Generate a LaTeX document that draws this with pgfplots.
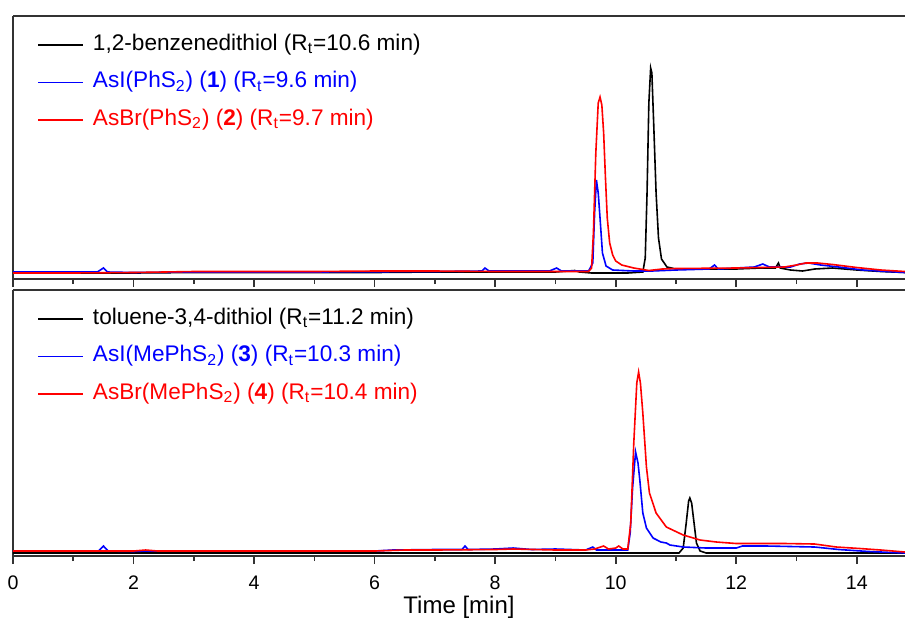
\documentclass[border=0pt]{standalone}
\usepackage{fontspec}
\setmainfont{Liberation Sans}
\usepackage{pgfplots}
\pgfplotsset{compat=1.18}

\pgfplotsset{
  legend image code/.code={\draw[#1] (0pt,0pt) -- (22.5pt,0pt);},
  chrom/.style={
    scale only axis,
    width=446pt,
    xmin=0, xmax=14.8,
    axis x line=box,
    axis y line=left,
    y axis line style={-},
    axis line style={line width=1pt, black!80},
    ytick=\empty,
    xtick={0,2,...,14},
    minor x tick num=1,
    xtick pos=left,
    tick align=outside,
    major tick length=4pt,
    minor tick length=2.5pt,
    tick style={line width=0.8pt, black!80},
    tick label style={font=\fontsize{9.8}{11}\selectfont},
    xticklabel shift=2.5pt,
    /pgf/number format/assume math mode=true,
    legend cell align=left,
    legend style={draw=none, fill=none, at={(0,1)}, anchor=north west,
      xshift=12pt, yshift=-8.5pt, inner sep=0pt,
      font=\fontsize{11.3}{13}\selectfont, row sep=7.25pt, column sep=4.5pt,
      nodes={inner sep=0pt, text height=8.5pt, text depth=3pt}},
    every axis plot/.append style={line width=0.8pt},
  }
}

\begin{document}
\begin{tikzpicture}
\useasboundingbox (0,0) rectangle (452.5pt,-308.5pt);

% upper panel: benzenedithiol and its AsX complexes
\begin{axis}[chrom, at={(6.5pt,-8pt)}, anchor=north west,
  height=131.5pt, ymin=-6, ymax=257, xticklabels={}]
\addplot[black] coordinates {
(0,0) (1,0) (2,0) (3,0.5) (4,0.5) (5,0.5) (6,0.5) (7,1) (8,1) (9,1) (9.32,2.5) (9.4,1)
(9.6,0) (10.2,0) (10.45,1) (10.49,15) (10.52,80) (10.55,170) (10.58,205) (10.60,200)
(10.63,150) (10.67,80) (10.71,35) (10.76,14) (10.85,6) (11,4) (11.5,4) (12,4) (12.4,5)
(12.65,5) (12.7,10) (12.73,5) (12.9,3) (13.1,2) (13.3,4) (13.6,5) (14,3) (14.4,1.5) (14.8,0.5)
};
\addlegendentry{1,2-benzenedithiol (R\textsubscript{t}=10.6 min)}
\addplot[blue] coordinates {
(0,1) (1.4,1) (1.5,5) (1.57,1) (2,0.5) (3,1) (5,1) (7,1.5) (7.78,2) (7.83,5) (7.9,2)
(8.9,2) (9.02,5) (9.1,2) (9.55,2) (9.62,10) (9.65,60) (9.68,93) (9.71,80) (9.74,55)
(9.78,20) (9.84,7) (9.95,3) (10.3,2) (10.6,2) (11,3) (11.55,4) (11.64,8) (11.7,4) (12,5)
(12.3,6) (12.44,9) (12.55,6) (12.9,6) (13.05,9) (13.2,10) (13.4,8) (13.7,6) (14.1,3)
(14.5,1.5) (14.8,0.5)
};
\addlegendentry{\textcolor{blue}{AsI(PhS\textsubscript{2}) (\textbf{1}) (R\textsubscript{t}=9.6 min)}}
\addplot[red] coordinates {
(0,0) (1,0) (2,0.5) (2.5,1) (3,1.5) (4,1.5) (5,1.5) (6,2) (7,2) (8,1.5) (9,1.5) (9.55,1.5)
(9.6,5) (9.63,40) (9.67,120) (9.71,170) (9.74,176) (9.77,168) (9.80,140) (9.83,95)
(9.86,55) (9.9,30) (9.95,18) (10.0,12) (10.1,8) (10.3,5) (10.55,2.5) (10.77,4) (11,4.5)
(12,5) (12.8,6) (13.0,8) (13.15,10) (13.35,10) (13.6,8.5) (14.0,5.5) (14.4,3) (14.8,1.5)
};
\addlegendentry{\textcolor{red}{AsBr(PhS\textsubscript{2}) (\textbf{2}) (R\textsubscript{t}=9.7 min)}}
\end{axis}

% lower panel: toluenedithiol and its AsX complexes
\begin{axis}[chrom, at={(6.5pt,-145pt)}, anchor=north west,
  height=133pt, ymin=-3, ymax=263,
  xlabel={Time [min]},
  xlabel style={font=\fontsize{12}{14}\selectfont,
    at={(axis description cs:0.5,0)}, anchor=center, yshift=-25.5pt}]
\addplot[black] coordinates {
(0,0) (2,0) (4,0) (6,0) (8,0) (10,0) (11.05,0) (11.12,5) (11.17,30) (11.21,52) (11.23,55)
(11.26,50) (11.3,30) (11.34,10) (11.4,2) (11.5,0) (13,0) (14.8,0)
};
\addlegendentry{toluene-3,4-dithiol (R\textsubscript{t}=11.2 min)}
\addplot[blue] coordinates {
(0,2) (1.42,2) (1.5,7) (1.58,2) (2,1.5) (2.2,2) (4,2) (6,2) (6.3,3) (7,3.5) (7.45,3.5)
(7.5,7) (7.55,3.5) (8,4) (8.3,5) (8.6,3.5) (9,4) (9.5,3) (9.62,6) (9.68,3) (10.2,3)
(10.24,20) (10.28,65) (10.33,101) (10.37,90) (10.40,73) (10.45,40) (10.51,25) (10.62,15)
(10.75,11) (10.84,10) (10.9,8) (11.12,6) (11.5,5) (12.0,5) (12.1,7) (12.5,7) (13.3,6)
(13.7,3.5) (14.2,1.5) (14.8,0)
};
\addlegendentry{\textcolor{blue}{AsI(MePhS\textsubscript{2}) (\textbf{3}) (R\textsubscript{t}=10.3 min)}}
\addplot[red] coordinates {
(0,2) (1,2) (2,2) (2.2,3) (2.4,2) (4,2) (6,2) (6.5,3) (7,3) (8,3.5) (8.3,4) (9,3) (9.5,3)
(9.65,4) (9.8,7) (9.88,4) (10.0,5) (10.05,7) (10.12,4) (10.2,4) (10.25,30) (10.3,110)
(10.35,170) (10.38,181) (10.41,170) (10.45,140) (10.51,86) (10.56,60) (10.67,40)
(10.84,26) (11.12,18) (11.4,13) (11.67,11) (12.0,9.5) (12.8,9.5) (13.3,9) (13.66,6)
(14.05,4.5) (14.4,3) (14.8,1)
};
\addlegendentry{\textcolor{red}{AsBr(MePhS\textsubscript{2}) (\textbf{4}) (R\textsubscript{t}=10.4 min)}}
\end{axis}
\end{tikzpicture}
\end{document}
